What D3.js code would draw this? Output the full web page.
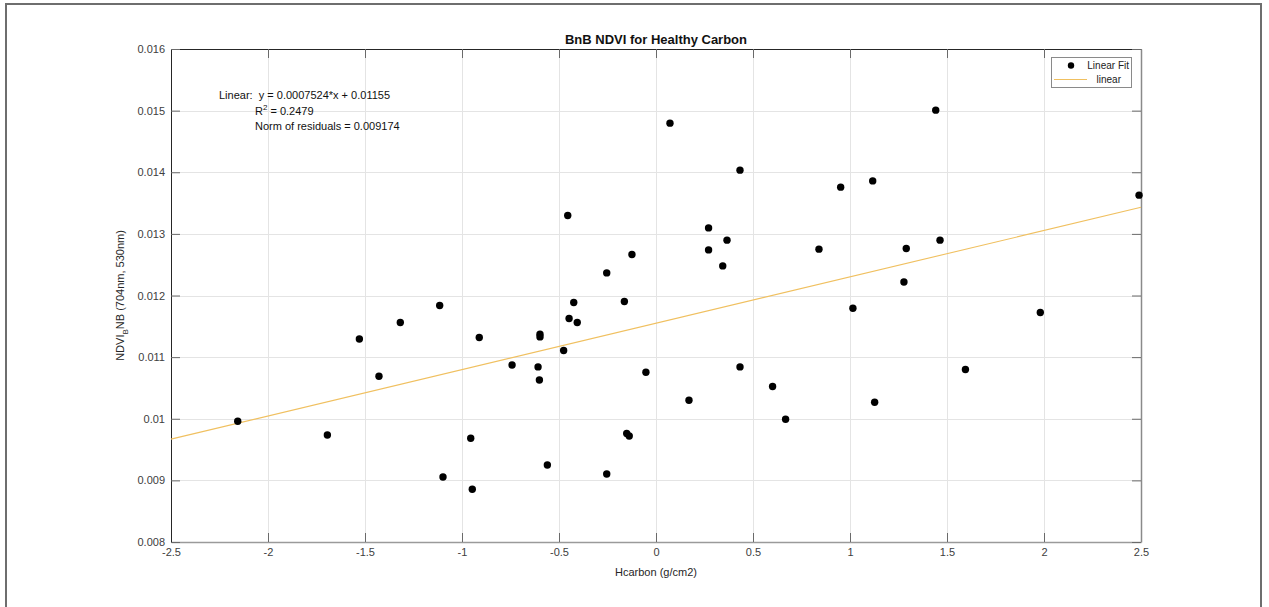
<!DOCTYPE html>
<html>
<head>
<meta charset="utf-8">
<script src="https://cdn.jsdelivr.net/npm/d3@7/dist/d3.min.js"></script>
<style>
  html, body { margin: 0; padding: 0; background: #fff; }
  svg { display: block; font-family: "Liberation Sans", Arial, Helvetica, sans-serif; }
  .pre { white-space: pre; }
</style>
</head>
<body>
<svg id="chart" width="1269" height="607"></svg>
<script>
// Hcarbon (g/cm2) per sample
const hcarbon = [
  -2.156, -1.694, -1.529, -1.428, -1.318, -1.115, -1.098, -0.955, -0.947, -0.911,
  -0.742, -0.608, -0.601, -0.598, -0.598, -0.560, -0.476, -0.455, -0.448, -0.424,
  -0.406, -0.254, -0.254, -0.163, -0.151, -0.138, -0.124, -0.052, 0.072, 0.170,
  0.271, 0.271, 0.344, 0.366, 0.433, 0.433, 0.601, 0.668, 0.840, 0.952,
  1.015, 1.117, 1.127, 1.278, 1.290, 1.442, 1.464, 1.595, 1.981, 2.490
];
// NDVI_BNB (704nm, 530nm) per sample
const ndvi = [
  0.00996, 0.009737, 0.011295, 0.01069, 0.011562, 0.011838, 0.009055, 0.009683, 0.008855, 0.011318,
  0.010873, 0.010841, 0.01063, 0.011372, 0.011328, 0.00925, 0.011107, 0.013299, 0.011626, 0.011886,
  0.011562, 0.012367, 0.009104, 0.011903, 0.00976, 0.00972, 0.012666, 0.010755, 0.014797, 0.0103,
  0.013097, 0.01274, 0.01248, 0.012898, 0.014034, 0.010841, 0.010523, 0.009992, 0.012752, 0.013758,
  0.011794, 0.01386, 0.010268, 0.01222, 0.012763, 0.015008, 0.012898, 0.010799, 0.011724, 0.013628
];
// Linear fit coefficients
const fitSlope = 0.0007524;
const fitIntercept = 0.01155;

const xTicks = [-2.5, -2, -1.5, -1, -0.5, 0, 0.5, 1, 1.5, 2, 2.5];
const xTickLabels = ["-2.5", "-2", "-1.5", "-1", "-0.5", "0", "0.5", "1", "1.5", "2", "2.5"];
const yTicks = [0.008, 0.009, 0.010, 0.011, 0.012, 0.013, 0.014, 0.015, 0.016];
const yTickLabels = ["0.008", "0.009", "0.01", "0.011", "0.012", "0.013", "0.014", "0.015", "0.016"];

const fitText = [
  "Linear:  y = 0.0007524*x + 0.01155",
  "Norm of residuals = 0.009174"
];
const legendLabels = ["Linear Fit", "linear"];

const svg = d3.select("#chart");

// figure frame
svg.append("path")
  .attr("d", "M6,620 V4 H1261 V620")
  .attr("fill", "none").attr("stroke", "#6e6e6e").attr("stroke-width", 2);

const L = 171, R = 1141, T = 49, B = 542;
const x = d3.scaleLinear().domain([-2.5, 2.5]).range([L, R]);
const y = d3.scaleLinear().domain([0.008, 0.016]).range([B, T]);

// grid
const grid = svg.append("g").attr("stroke", "#e4e4e4").attr("stroke-width", 1);
grid.selectAll(".gx").data(xTicks.slice(1, -1)).join("line")
  .attr("x1", d => Math.round(x(d)) + 0.5).attr("x2", d => Math.round(x(d)) + 0.5)
  .attr("y1", T).attr("y2", B);
grid.selectAll(".gy").data(yTicks.slice(1, -1)).join("line")
  .attr("y1", d => Math.round(y(d)) + 0.5).attr("y2", d => Math.round(y(d)) + 0.5)
  .attr("x1", L).attr("x2", R);

// axes with inward ticks on all four sides
const tickLen = 9;
const xBottom = d3.axisBottom(x).tickValues(xTicks).tickSizeInner(-tickLen).tickSizeOuter(0)
  .tickPadding(6).tickFormat((d, i) => xTickLabels[i]);
const gxb = svg.append("g").attr("transform", `translate(0,${B})`).call(xBottom);
const xTop = d3.axisTop(x).tickValues(xTicks).tickSizeInner(-tickLen).tickSizeOuter(0).tickFormat("");
const gxt = svg.append("g").attr("transform", `translate(0,${T})`).call(xTop);
const yLeft = d3.axisLeft(y).tickValues(yTicks).tickSizeInner(-tickLen).tickSizeOuter(0)
  .tickPadding(6).tickFormat((d, i) => yTickLabels[i]);
const gyl = svg.append("g").attr("transform", `translate(${L},0)`).call(yLeft);
const yRight = d3.axisRight(y).tickValues(yTicks).tickSizeInner(-tickLen).tickSizeOuter(0).tickFormat("");
const gyr = svg.append("g").attr("transform", `translate(${R},0)`).call(yRight);

[gxb, gxt, gyl, gyr].forEach(g => {
  g.selectAll("text").attr("font-size", 11).attr("fill", "#404040")
    .attr("font-family", "'Liberation Sans', Arial, sans-serif");
  g.selectAll(".tick line").attr("stroke", "#6a6a6a");
});
gxt.select(".domain").attr("stroke", "#262626");
gyl.select(".domain").attr("stroke", "#262626");
gxb.select(".domain").attr("stroke", "#9a9a9a").attr("stroke-width", 1.5);
gyr.select(".domain").attr("stroke", "#8a8a8a").attr("stroke-width", 1.5);

// fit line
svg.append("line")
  .attr("x1", x(-2.5)).attr("y1", y(fitSlope * -2.5 + fitIntercept))
  .attr("x2", x(2.5)).attr("y2", y(fitSlope * 2.5 + fitIntercept))
  .attr("stroke", "#f0c060").attr("stroke-width", 1.1);

// samples
svg.append("g").selectAll("circle").data(hcarbon).join("circle")
  .attr("cx", d => x(d)).attr("cy", (d, i) => y(ndvi[i]))
  .attr("r", 3.7).attr("fill", "#000");

// title and axis labels
svg.append("text").attr("x", (L + R) / 2).attr("y", 44).attr("text-anchor", "middle")
  .attr("font-size", 13).attr("font-weight", "bold").attr("fill", "#111")
  .text("BnB NDVI for Healthy Carbon");
svg.append("text").attr("x", (L + R) / 2).attr("y", 576).attr("text-anchor", "middle")
  .attr("font-size", 11).attr("fill", "#262626").text("Hcarbon (g/cm2)");
const yl = svg.append("text").attr("transform", `translate(124,${(T + B) / 2}) rotate(-90)`)
  .attr("text-anchor", "middle").attr("font-size", 11).attr("fill", "#262626");
yl.append("tspan").text("NDVI");
yl.append("tspan").attr("dy", 4).attr("font-size", 8).text("B");
yl.append("tspan").attr("dy", -4).text("NB (704nm, 530nm)");

// fit statistics
const ann = svg.append("g").attr("font-size", 11).attr("fill", "#111");
ann.append("text").attr("class", "pre").attr("x", 219).attr("y", 99).text(fitText[0]);
const r2 = ann.append("text").attr("x", 255).attr("y", 115);
r2.append("tspan").text("R");
r2.append("tspan").attr("dy", -5).attr("font-size", 8).text("2");
r2.append("tspan").attr("dy", 5).text(" = 0.2479");
ann.append("text").attr("x", 255).attr("y", 130).text(fitText[1]);

// legend
const lg = svg.append("g");
lg.append("rect").attr("x", 1051.5).attr("y", 57.5).attr("width", 80).attr("height", 30)
  .attr("fill", "#fff").attr("stroke", "#8a8a8a").attr("stroke-width", 1);
lg.append("circle").attr("cx", 1071).attr("cy", 65.5).attr("r", 3.2).attr("fill", "#000");
lg.append("text").attr("x", 1129).attr("y", 69).attr("text-anchor", "end")
  .attr("font-size", 10).attr("fill", "#222").text(legendLabels[0]);
lg.append("line").attr("x1", 1054).attr("x2", 1087).attr("y1", 79.5).attr("y2", 79.5)
  .attr("stroke", "#f0c060").attr("stroke-width", 1);
lg.append("text").attr("x", 1121).attr("y", 83).attr("text-anchor", "end")
  .attr("font-size", 10).attr("fill", "#222").text(legendLabels[1]);
</script>
</body>
</html>
